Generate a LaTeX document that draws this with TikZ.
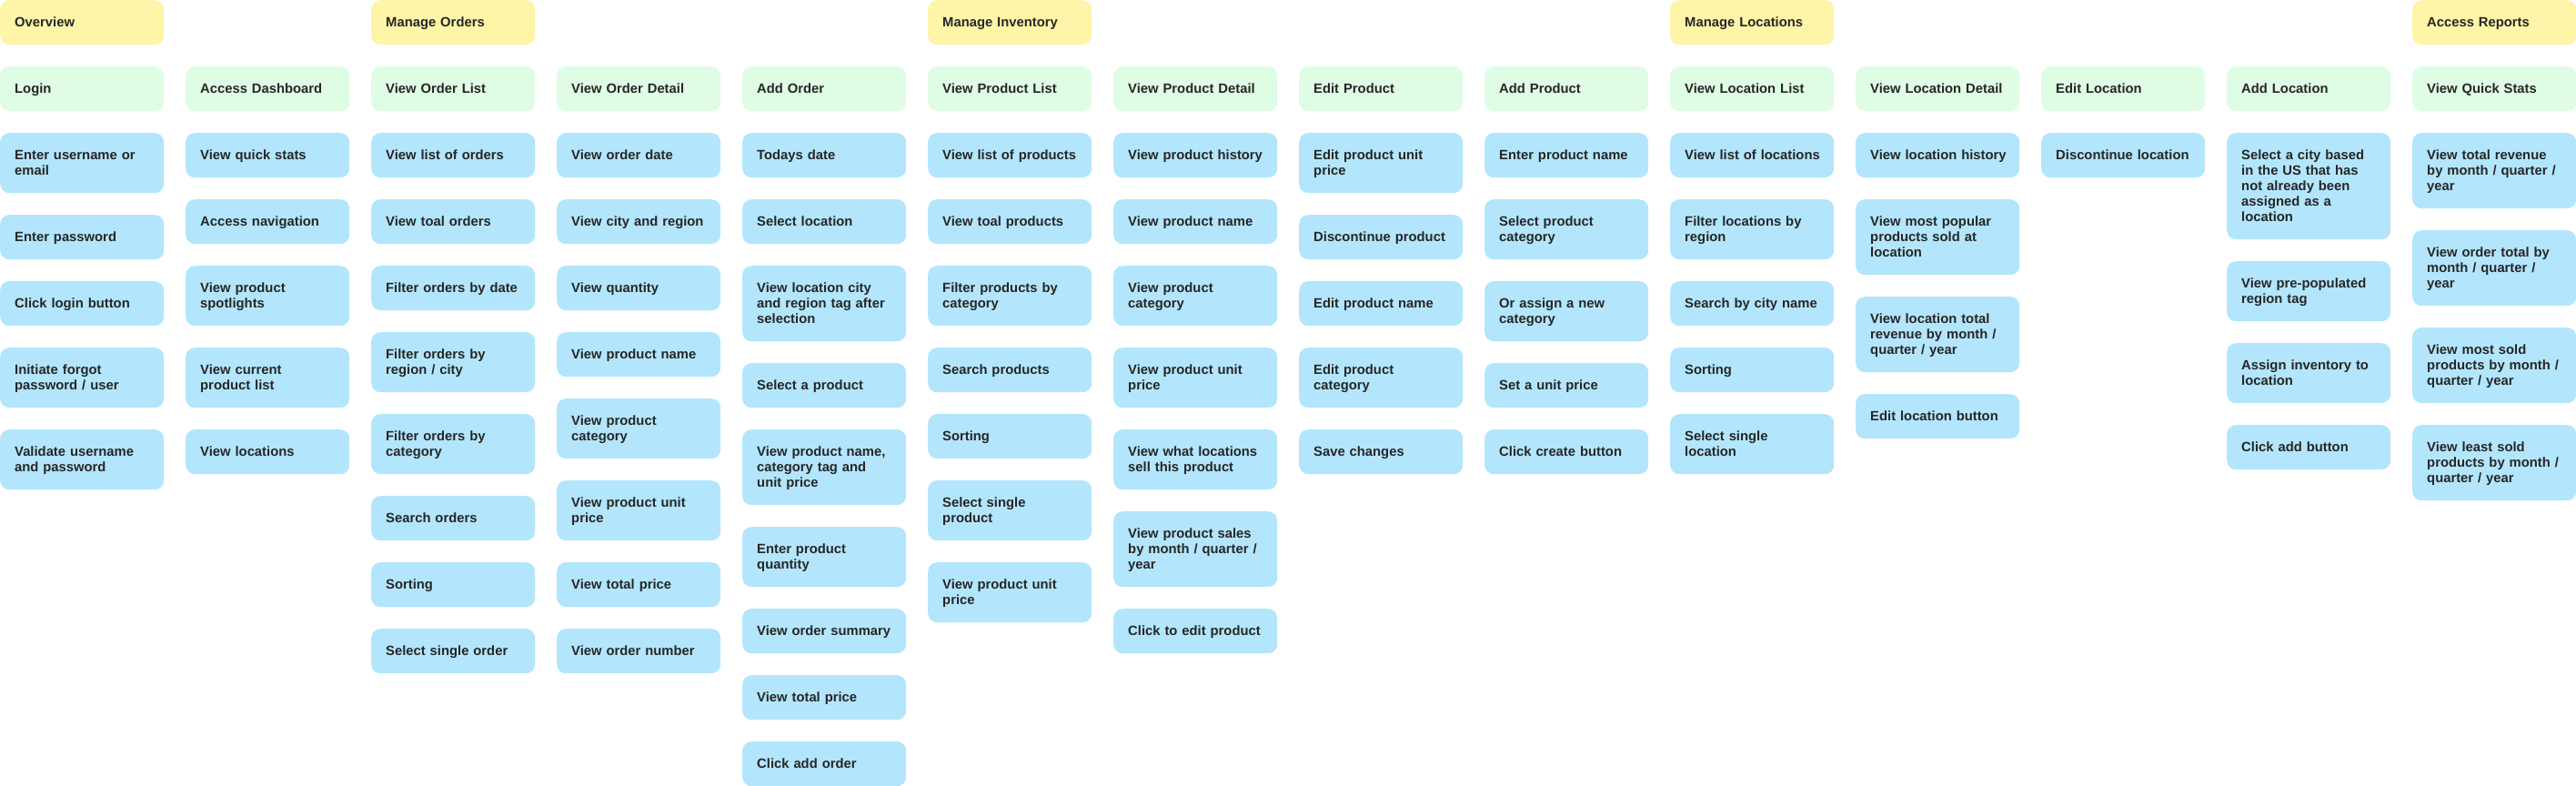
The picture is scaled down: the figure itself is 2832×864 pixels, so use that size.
\documentclass[tikz,border=0pt]{standalone}
\usepackage{fontspec}
\usepackage{array}
\setmainfont{Liberation Sans}
\definecolor{hdrc}{HTML}{FFF5A8}
\definecolor{grpc}{HTML}{DFFCE4}
\definecolor{itmc}{HTML}{B3E6FC}
\definecolor{txtc}{HTML}{262626}
\newcommand\lstrut{\vrule height 13.7pt depth 3.3pt width 0pt}
\tikzset{
  card/.style={anchor=north west, rounded corners=10pt, minimum width=180pt,
    text width=148pt, inner xsep=16pt, inner ysep=0pt, align=left, text=txtc,
    font=\fontsize{14.8pt}{17pt}\selectfont\bfseries},
  hdr/.style={card, fill=hdrc},
  grp/.style={card, fill=grpc},
  itm/.style={card, fill=itmc}
}
% style, name, x, top, lines, text
\newcommand\bx[6]{\node[#1, minimum height={32pt+17pt*#5}] (#2) at (#3pt,-#4pt)
  {\renewcommand\arraystretch{0}\begin{tabular}{@{}>{\lstrut}l@{}}#6\end{tabular}};}
\begin{document}
\begin{tikzpicture}
\useasboundingbox (0,0) rectangle (2832pt,-864pt);
% column 0
\bx{hdr}{c0h}{0}{0}{1}{Overview}
\bx{grp}{c0g}{0}{73}{1}{Login}
\bx{itm}{c0a}{0}{146}{2}{Enter username or\\email}
\bx{itm}{c0b}{0}{236}{1}{Enter password}
\bx{itm}{c0c}{0}{309}{1}{Click login button}
\bx{itm}{c0d}{0}{382}{2}{Initiate forgot\\password / user}
\bx{itm}{c0e}{0}{472}{2}{Validate username\\and password}
% column 1
\bx{grp}{c1g}{204}{73}{1}{Access Dashboard}
\bx{itm}{c1a}{204}{146}{1}{View quick stats}
\bx{itm}{c1b}{204}{219}{1}{Access navigation}
\bx{itm}{c1c}{204}{292}{2}{View product\\spotlights}
\bx{itm}{c1d}{204}{382}{2}{View current\\product list}
\bx{itm}{c1e}{204}{472}{1}{View locations}
% column 2
\bx{hdr}{c2h}{408}{0}{1}{Manage Orders}
\bx{grp}{c2g}{408}{73}{1}{View Order List}
\bx{itm}{c2a}{408}{146}{1}{View list of orders}
\bx{itm}{c2b}{408}{219}{1}{View toal orders}
\bx{itm}{c2c}{408}{292}{1}{Filter orders by date}
\bx{itm}{c2d}{408}{365}{2}{Filter orders by\\region / city}
\bx{itm}{c2e}{408}{455}{2}{Filter orders by\\category}
\bx{itm}{c2f}{408}{545}{1}{Search orders}
\bx{itm}{c2i}{408}{618}{1}{Sorting}
\bx{itm}{c2j}{408}{691}{1}{Select single order}
% column 3
\bx{grp}{c3g}{612}{73}{1}{View Order Detail}
\bx{itm}{c3a}{612}{146}{1}{View order date}
\bx{itm}{c3b}{612}{219}{1}{View city and region}
\bx{itm}{c3c}{612}{292}{1}{View quantity}
\bx{itm}{c3d}{612}{365}{1}{View product name}
\bx{itm}{c3e}{612}{438}{2}{View product\\category}
\bx{itm}{c3f}{612}{528}{2}{View product unit\\price}
\bx{itm}{c3i}{612}{618}{1}{View total price}
\bx{itm}{c3j}{612}{691}{1}{View order number}
% column 4
\bx{grp}{c4g}{816}{73}{1}{Add Order}
\bx{itm}{c4a}{816}{146}{1}{Todays date}
\bx{itm}{c4b}{816}{219}{1}{Select location}
\bx{itm}{c4c}{816}{292}{3}{View location city\\and region tag after\\selection}
\bx{itm}{c4d}{816}{399}{1}{Select a product}
\bx{itm}{c4e}{816}{472}{3}{View product name,\\category tag and\\unit price}
\bx{itm}{c4f}{816}{579}{2}{Enter product\\quantity}
\bx{itm}{c4i}{816}{669}{1}{View order summary}
\bx{itm}{c4j}{816}{742}{1}{View total price}
\bx{itm}{c4k}{816}{815}{1}{Click add order}
% column 5
\bx{hdr}{c5h}{1020}{0}{1}{Manage Inventory}
\bx{grp}{c5g}{1020}{73}{1}{View Product List}
\bx{itm}{c5a}{1020}{146}{1}{View list of products}
\bx{itm}{c5b}{1020}{219}{1}{View toal products}
\bx{itm}{c5c}{1020}{292}{2}{Filter products by\\category}
\bx{itm}{c5d}{1020}{382}{1}{Search products}
\bx{itm}{c5e}{1020}{455}{1}{Sorting}
\bx{itm}{c5f}{1020}{528}{2}{Select single\\product}
\bx{itm}{c5i}{1020}{618}{2}{View product unit\\price}
% column 6
\bx{grp}{c6g}{1224}{73}{1}{View Product Detail}
\bx{itm}{c6a}{1224}{146}{1}{View product history}
\bx{itm}{c6b}{1224}{219}{1}{View product name}
\bx{itm}{c6c}{1224}{292}{2}{View product\\category}
\bx{itm}{c6d}{1224}{382}{2}{View product unit\\price}
\bx{itm}{c6e}{1224}{472}{2}{View what locations\\sell this product}
\bx{itm}{c6f}{1224}{562}{3}{View product sales\\by month / quarter /\\year}
\bx{itm}{c6i}{1224}{669}{1}{Click to edit product}
% column 7
\bx{grp}{c7g}{1428}{73}{1}{Edit Product}
\bx{itm}{c7a}{1428}{146}{2}{Edit product unit\\price}
\bx{itm}{c7b}{1428}{236}{1}{Discontinue product}
\bx{itm}{c7c}{1428}{309}{1}{Edit product name}
\bx{itm}{c7d}{1428}{382}{2}{Edit product\\category}
\bx{itm}{c7e}{1428}{472}{1}{Save changes}
% column 8
\bx{grp}{c8g}{1632}{73}{1}{Add Product}
\bx{itm}{c8a}{1632}{146}{1}{Enter product name}
\bx{itm}{c8b}{1632}{219}{2}{Select product\\category}
\bx{itm}{c8c}{1632}{309}{2}{Or assign a new\\category}
\bx{itm}{c8d}{1632}{399}{1}{Set a unit price}
\bx{itm}{c8e}{1632}{472}{1}{Click create button}
% column 9
\bx{hdr}{c9h}{1836}{0}{1}{Manage Locations}
\bx{grp}{c9g}{1836}{73}{1}{View Location List}
\bx{itm}{c9a}{1836}{146}{1}{View list of locations}
\bx{itm}{c9b}{1836}{219}{2}{Filter locations by\\region}
\bx{itm}{c9c}{1836}{309}{1}{Search by city name}
\bx{itm}{c9d}{1836}{382}{1}{Sorting}
\bx{itm}{c9e}{1836}{455}{2}{Select single\\location}
% column 10
\bx{grp}{c10g}{2040}{73}{1}{View Location Detail}
\bx{itm}{c10a}{2040}{146}{1}{View location history}
\bx{itm}{c10b}{2040}{219}{3}{View most popular\\products sold at\\location}
\bx{itm}{c10c}{2040}{326}{3}{View location total\\revenue by month /\\quarter / year}
\bx{itm}{c10d}{2040}{433}{1}{Edit location button}
% column 11
\bx{grp}{c11g}{2244}{73}{1}{Edit Location}
\bx{itm}{c11a}{2244}{146}{1}{Discontinue location}
% column 12
\bx{grp}{c12g}{2448}{73}{1}{Add Location}
\bx{itm}{c12a}{2448}{146}{5}{Select a city based\\in the US that has\\not already been\\assigned as a\\location}
\bx{itm}{c12b}{2448}{287}{2}{View pre-populated\\region tag}
\bx{itm}{c12c}{2448}{377}{2}{Assign inventory to\\location}
\bx{itm}{c12d}{2448}{467}{1}{Click add button}
% column 13
\bx{hdr}{c13h}{2652}{0}{1}{Access Reports}
\bx{grp}{c13g}{2652}{73}{1}{View Quick Stats}
\bx{itm}{c13a}{2652}{146}{3}{View total revenue\\by month / quarter /\\year}
\bx{itm}{c13b}{2652}{253}{3}{View order total by\\month / quarter /\\year}
\bx{itm}{c13c}{2652}{360}{3}{View most sold\\products by month /\\quarter / year}
\bx{itm}{c13d}{2652}{467}{3}{View least sold\\products by month /\\quarter / year}
\end{tikzpicture}
\end{document}
